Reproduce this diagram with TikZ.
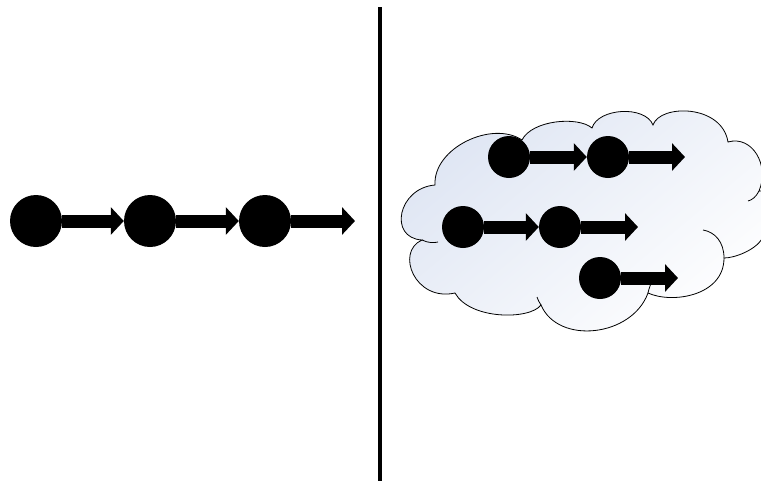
\documentclass[tikz,border=0pt]{standalone}
\usetikzlibrary{arrows.meta}
\definecolor{cloudtop}{RGB}{222,229,243}
\tikzset{
  bigdot/.style={circle, fill=black, inner sep=0pt, minimum size=52pt},
  smalldot/.style={circle, fill=black, inner sep=0pt, minimum size=42pt},
  arr/.style={line width=13pt, -{Triangle[length=13pt,width=27pt]}},
  cloudline/.style={line width=0.8pt, draw=black},
  divider/.style={line width=4.5pt}
}
\begin{document}
\begin{tikzpicture}[x=1pt,y=-1pt]
\useasboundingbox (0,0) rectangle (761,480);
\clip (0,0) rectangle (761,480);
\fill[white] (0,0) rectangle (761,480);
% divider
\coordinate (vtop) at (380,7);
\coordinate (vbot) at (380,482);
\draw[divider] (vtop) -- (vbot);
% cloud
\draw[cloudline, top color=cloudtop, middle color=white, bottom color=white, shading angle=40]
  (435,185) .. controls (433,148) and (492,120) .. (522,140)
  .. controls (532,120) and (578,116) .. (592,128)
  .. controls (598,108) and (645,105) .. (653,125)
  .. controls (660,104) and (722,104) .. (728,142)
  .. controls (752,135) and (770,165) .. (759,191)
  -- (775,191) -- (775,236) -- (762,239)
  .. controls (755,250) and (735,258) .. (724,258)
  .. controls (724,296) and (672,304) .. (648,293)
  .. controls (632,337) and (558,345) .. (541,305)
  .. controls (530,320) and (470,320) .. (455,293)
  .. controls (415,302) and (395,252) .. (422,240)
  .. controls (388,238) and (398,188) .. (435,185) -- cycle;
% inner arcs of the cloud
\draw[cloudline] (759,191) .. controls (756,197) and (752,200) .. (748,201);
\draw[cloudline] (724,258) .. controls (724,242) and (715,232) .. (703,230);
\draw[cloudline] (648,293) .. controls (649,288) and (651,284) .. (652,280);
\draw[cloudline] (541,305) .. controls (539,302) and (538,300) .. (537,297);
\draw[cloudline] (422,240) .. controls (428,243) and (434,243) .. (438,242);
% left chain
\node[bigdot] (l1) at (36,221) {};
\node[bigdot] (l2) at (150,221) {};
\node[bigdot] (l3) at (265,221) {};
\coordinate (lend) at (355,221);
\draw[arr] (l1) -- (l2);
\draw[arr] (l2) -- (l3);
\draw[arr] (l3) -- (lend);
% right chains
\node[smalldot] (a) at (509,157) {};
\node[smalldot] (b) at (608,157) {};
\coordinate (bend) at (685,157);
\node[smalldot] (c) at (463,227) {};
\node[smalldot] (d) at (560,227) {};
\coordinate (dend) at (638,227);
\node[smalldot] (e) at (600,278) {};
\coordinate (eend) at (678,278);
\draw[arr] (a) -- (b);
\draw[arr] (b) -- (bend);
\draw[arr] (c) -- (d);
\draw[arr] (d) -- (dend);
\draw[arr] (e) -- (eend);
\end{tikzpicture}
\end{document}
